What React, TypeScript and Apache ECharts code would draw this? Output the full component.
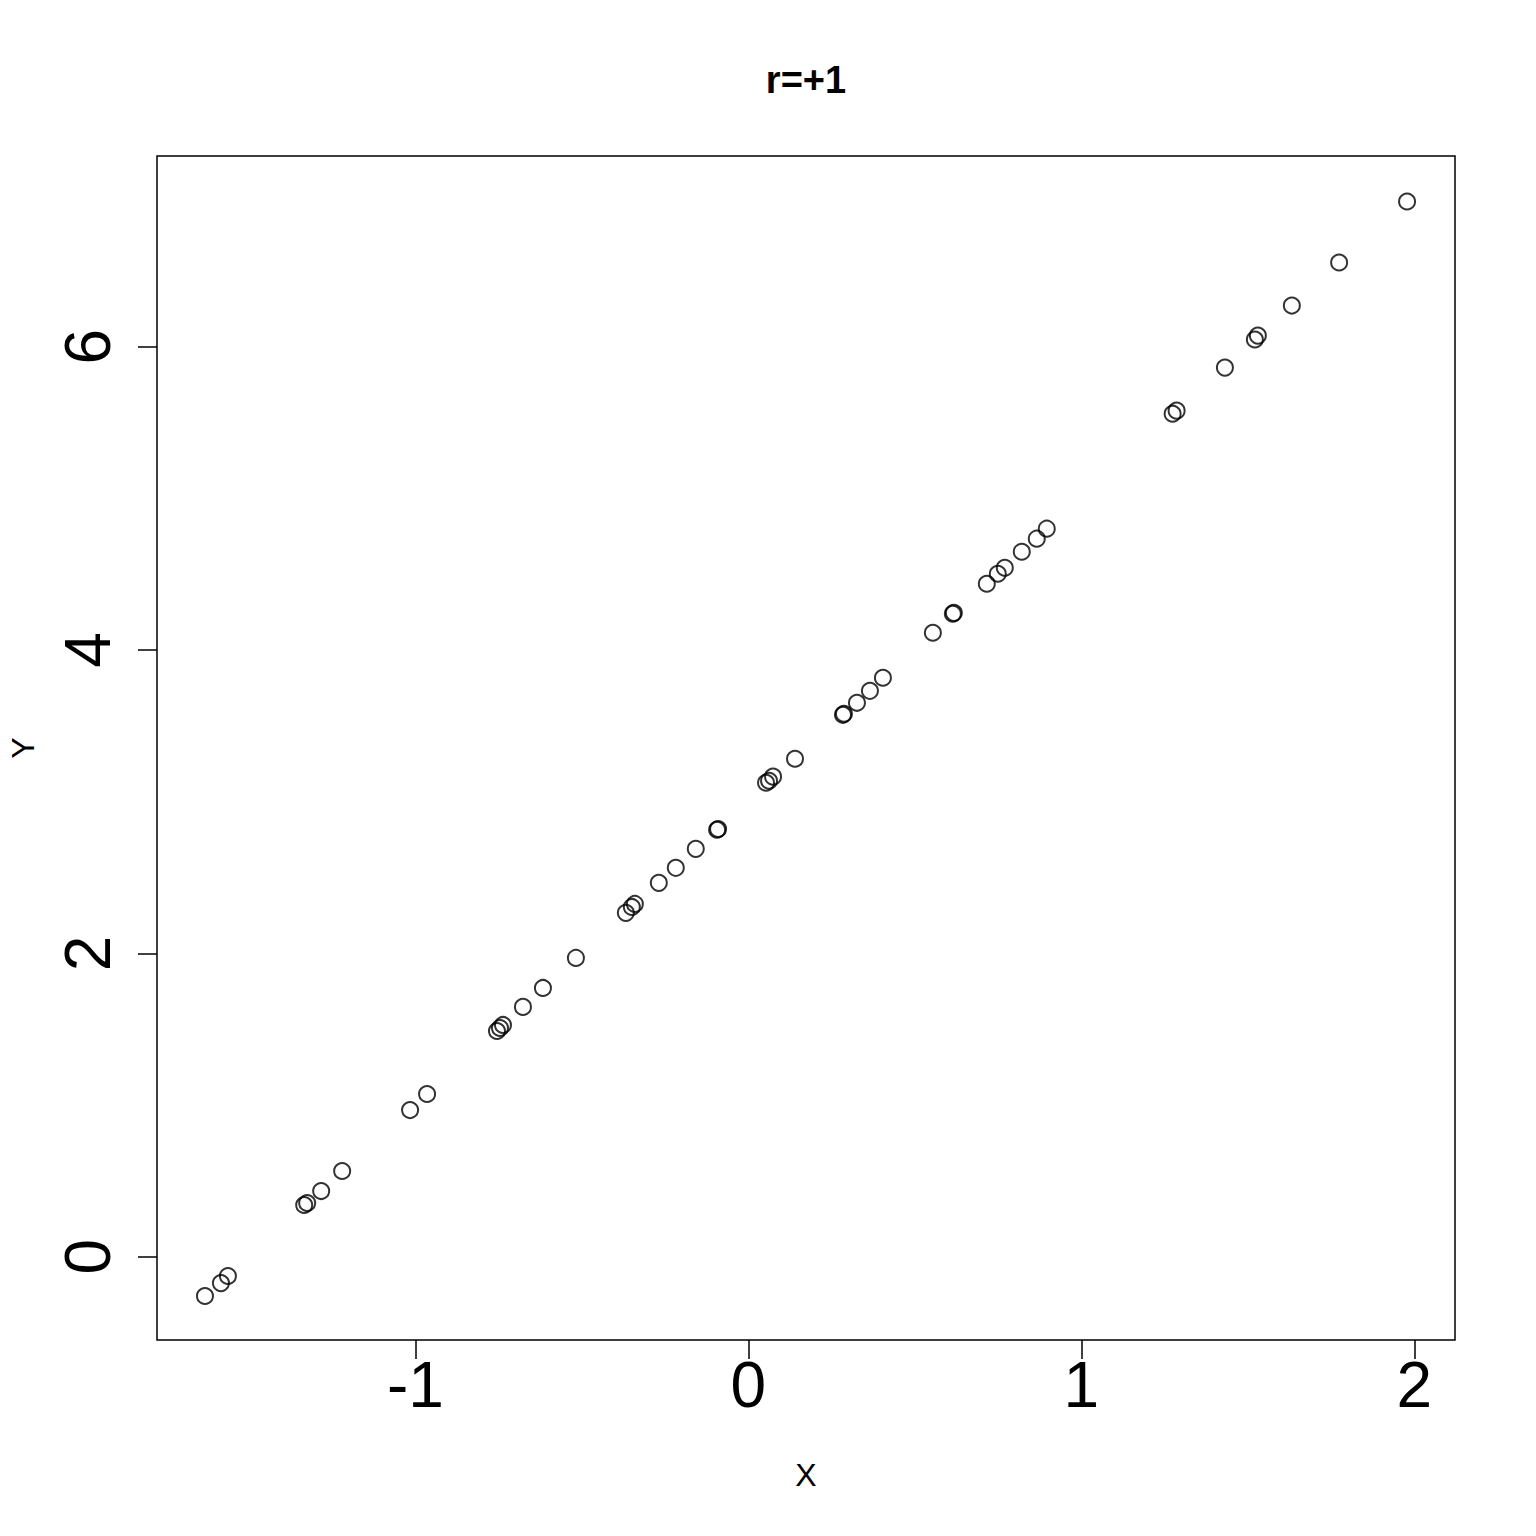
import React, { useEffect, useRef } from "react";
import * as echarts from "echarts";

const xValues = [
  -1.632, -1.584, -1.563, -1.334, -1.325, -1.283, -1.22, -1.016, -0.965, -0.755,
  -0.746, -0.737, -0.677, -0.617, -0.518, -0.368, -0.35, -0.341, -0.269, -0.218,
  -0.158, -0.094, -0.091, 0.053, 0.062, 0.074, 0.14, 0.284, 0.287, 0.326,
  0.365, 0.404, 0.554, 0.614, 0.617, 0.716, 0.749, 0.77, 0.821, 0.866,
  0.896, 1.274, 1.286, 1.431, 1.521, 1.53, 1.632, 1.774, 1.978,
];
const yValues = [
  -0.259, -0.174, -0.127, 0.341, 0.354, 0.433, 0.565, 0.967, 1.073, 1.488,
  1.508, 1.528, 1.647, 1.772, 1.97, 2.267, 2.306, 2.326, 2.465, 2.564,
  2.689, 2.815, 2.82, 3.125, 3.138, 3.165, 3.283, 3.573, 3.58, 3.652,
  3.731, 3.817, 4.114, 4.239, 4.245, 4.437, 4.503, 4.542, 4.648, 4.734,
  4.8, 5.558, 5.578, 5.862, 6.047, 6.073, 6.271, 6.555, 6.957,
];
const xTicks = [-1, 0, 1, 2];
const yTicks = [0, 2, 4, 6];
const titleText = "r=+1";
const xLabel = "X";
const yLabel = "Y";

const FONT = "'Liberation Sans', Arial, Helvetica, sans-serif";

export default function App() {
  const ref = useRef<HTMLDivElement>(null);
  useEffect(() => {
    if (!ref.current) return;
    const chart = echarts.init(ref.current, undefined, { renderer: "svg" });
    const data = xValues.map((x, i) => [x, yValues[i]]);
    chart.setOption({
      animation: false,
      backgroundColor: "#ffffff",
      grid: {
        left: 157,
        top: 156,
        width: 1298,
        height: 1184,
        show: true,
        borderColor: "#000",
        borderWidth: 1.5,
        backgroundColor: "transparent",
      },
      xAxis: {
        type: "value",
        min: -1.776,
        max: 2.122,
        axisLine: { show: false, onZero: false },
        splitLine: { show: false },
        axisTick: {
          show: true,
          length: 19,
          inside: false,
          customValues: xTicks,
          lineStyle: { color: "#000", width: 1.5 },
        },
        axisLabel: {
          customValues: xTicks,
          fontFamily: FONT,
          fontSize: 64,
          color: "#000",
          margin: 13,
          formatter: (v: number) => String(v),
        },
      },
      yAxis: {
        type: "value",
        min: -0.549,
        max: 7.257,
        axisLine: { show: false, onZero: false },
        splitLine: { show: false },
        axisTick: {
          show: true,
          length: 19,
          inside: false,
          customValues: yTicks,
          lineStyle: { color: "#000", width: 1.5 },
        },
        axisLabel: {
          customValues: yTicks,
          fontFamily: FONT,
          fontSize: 64,
          color: "#000",
          rotate: 90,
          margin: 37,
          formatter: (v: number) => String(v),
        },
      },
      graphic: [
        {
          type: "text",
          x: 806,
          y: 80,
          style: {
            text: titleText,
            font: `bold 38px ${FONT}`,
            fill: "#000",
            textAlign: "center",
            textVerticalAlign: "middle",
          },
        },
        {
          type: "text",
          x: 806,
          y: 1475,
          style: {
            text: xLabel,
            font: `32px ${FONT}`,
            fill: "#000",
            textAlign: "center",
            textVerticalAlign: "middle",
          },
        },
        {
          type: "text",
          x: 23,
          y: 748,
          rotation: Math.PI / 2,
          style: {
            text: yLabel,
            font: `32px ${FONT}`,
            fill: "#000",
            textAlign: "center",
            textVerticalAlign: "middle",
          },
        },
      ],
      series: [
        {
          type: "scatter",
          data,
          symbol: "circle",
          symbolSize: 16,
          itemStyle: {
            color: "transparent",
            borderColor: "#000",
            borderWidth: 2,
          },
          emphasis: { disabled: true },
        },
      ],
    });
    return () => chart.dispose();
  }, []);
  return (
    <div
      ref={ref}
      style={{ position: "absolute", left: 0, top: 0, width: 1536, height: 1536 }}
    />
  );
}
